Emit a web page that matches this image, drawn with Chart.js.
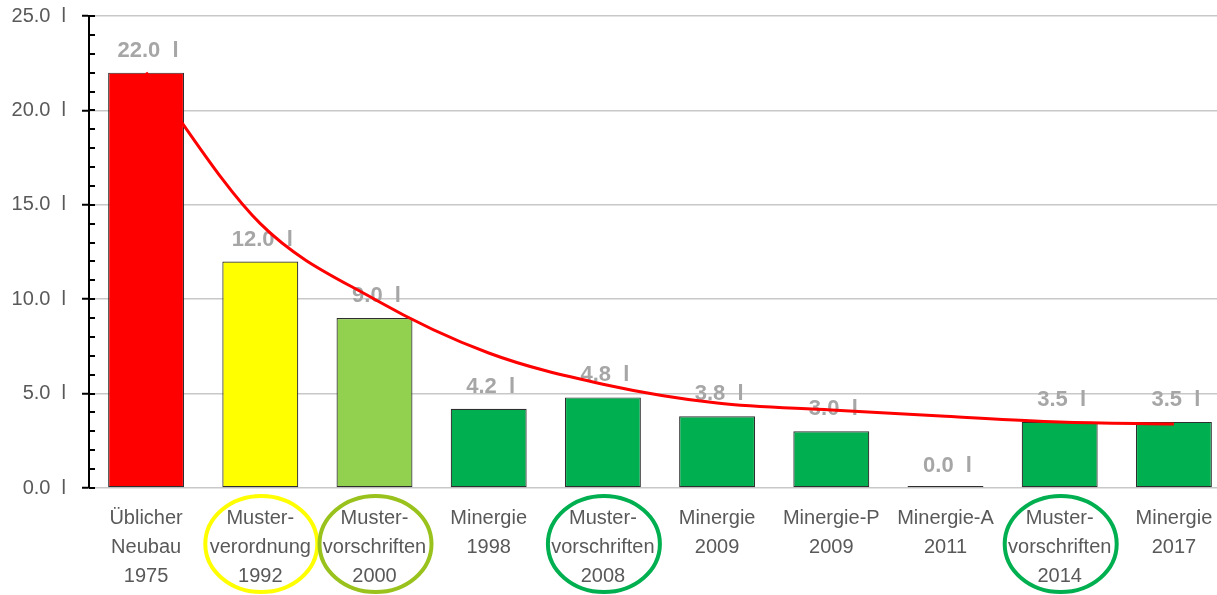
<!DOCTYPE html>
<html>
<head>
<meta charset="utf-8">
<script src="https://cdn.jsdelivr.net/npm/chart.js@4.4.1/dist/chart.umd.min.js"></script>
<style>
  html, body { margin: 0; padding: 0; background: #fff; overflow: hidden; }
  #wrap { position: absolute; left: 0; top: 0; width: 1231px; height: 595px; }
</style>
</head>
<body>
<div id="wrap"><canvas id="c"></canvas></div>
<script>
// ---- data ----
const categories = [
  ["Üblicher", "Neubau", "1975"],
  ["Muster-", "verordnung", "1992"],
  ["Muster-", "vorschriften", "2000"],
  ["Minergie", "1998"],
  ["Muster-", "vorschriften", "2008"],
  ["Minergie", "2009"],
  ["Minergie-P", "2009"],
  ["Minergie-A", "2011"],
  ["Muster-", "vorschriften", "2014"],
  ["Minergie", "2017"]
];
const values = [22.0, 12.0, 9.0, 4.2, 4.8, 3.8, 3.0, 0.0, 3.5, 3.5];
const trendValues = [22.0, 14.0, 10.0, 7.15, 5.5, 4.5, 4.13, 3.8, 3.5, 3.39];
const barColors = ["#FF0000", "#FFFF00", "#92D050", "#00B050", "#00B050", "#00B050", "#00B050", "#00B050", "#00B050", "#00B050"];
const yTickValues = [0, 5, 10, 15, 20, 25];
const yTickLabels = ["0.0  l", "5.0  l", "10.0  l", "15.0  l", "20.0  l", "25.0  l"];
const circledIndices = [1, 2, 4, 8];
const circleColors = ["#FFFF00", "#99C31C", "#00B050", "#00B050"];

const FONT = "'Liberation Sans Narrow', 'Arial Narrow', 'Liberation Sans', Arial, sans-serif";

const dataLabelPlugin = {
  id: 'dataLabels',
  afterDatasetDraw(chart, args) {
    if (args.index !== 1) return;
    const ctx = chart.ctx;
    const meta = chart.getDatasetMeta(1);
    ctx.save();
    ctx.font = "bold 22px " + FONT;
    ctx.fillStyle = "#A6A6A6";
    ctx.textAlign = "center";
    ctx.textBaseline = "middle";
    meta.data.forEach((bar, i) => {
      const v = values[i];
      ctx.fillText(v.toFixed(1) + "  l", bar.x + 2, chart.scales.y.getPixelForValue(v) - 22);
    });
    ctx.restore();
  }
};

const axisTicksPlugin = {
  id: 'axisTicks',
  afterDatasetsDraw(chart) {
    const ctx = chart.ctx;
    const y = chart.scales.y;
    const x0 = chart.chartArea.left;
    ctx.save();
    ctx.strokeStyle = "#000";
    ctx.lineWidth = 2;
    for (let v = 0; v <= 25; v++) {
      const py = Math.round(y.getPixelForValue(v));
      ctx.beginPath();
      ctx.moveTo(x0, py);
      ctx.lineTo(x0 + 6, py);
      ctx.stroke();
    }
    ctx.restore();
  }
};

const ellipsePlugin = {
  id: 'ellipses',
  afterDraw(chart) {
    const ctx = chart.ctx;
    const xs = chart.scales.x;
    ctx.save();
    ctx.lineWidth = 4;
    circledIndices.forEach((idx, k) => {
      const cx = xs.getPixelForValue(idx) + 1;
      ctx.strokeStyle = circleColors[k];
      ctx.beginPath();
      ctx.ellipse(cx, 544, 56, 48, 0, 0, Math.PI * 2);
      ctx.stroke();
    });
    ctx.restore();
  }
};

new Chart(document.getElementById('c'), {
  data: {
    labels: categories,
    datasets: [
      {
        type: 'line',
        data: trendValues,
        borderColor: "#FF0000",
        borderWidth: 3,
        pointRadius: 0,
        cubicInterpolationMode: 'monotone',
        fill: false,
        clip: false,
        order: 0
      },
      {
        type: 'bar',
        data: values,
        backgroundColor: barColors,
        borderColor: "#2E2E2E",
        borderWidth: 1.2,
        borderSkipped: false,
        minBarLength: 2,
        categoryPercentage: 1.0,
        barPercentage: 0.665,
        order: 1
      }
    ]
  },
  options: {
    responsive: true,
    maintainAspectRatio: false,
    animation: false,
    devicePixelRatio: 1,
    layout: { padding: { left: 0, right: 0, top: 16, bottom: 0 } },
    plugins: { legend: { display: false }, tooltip: { enabled: false } },
    scales: {
      x: {
        grid: { display: false },
        border: { display: false },
        ticks: {
          color: "#595959",
          font: { family: FONT, size: 20, lineHeight: 1.45 },
          maxRotation: 0,
          autoSkip: false,
          padding: 8
        },
        afterFit(scale) { scale.height = 107; scale.paddingLeft = 0; scale.paddingRight = 0; }
      },
      y: {
        min: 0,
        max: 25,
        afterBuildTicks(scale) { scale.ticks = yTickValues.map(v => ({ value: v })); },
        afterFit(scale) { scale.width = 89; scale.paddingTop = 0; scale.paddingBottom = 0; },
        grid: {
          color: "#C8C8C8",
          lineWidth: 1.5,
          tickColor: "#000",
          tickLength: 7,
          tickWidth: 2
        },
        border: { color: "#000", width: 2 },
        ticks: {
          color: "#595959",
          font: { family: FONT, size: 20 },
          padding: 16,
          callback(value) { return yTickLabels[yTickValues.indexOf(value)]; }
        }
      }
    }
  },
  plugins: [dataLabelPlugin, axisTicksPlugin, ellipsePlugin]
});
</script>
</body>
</html>
